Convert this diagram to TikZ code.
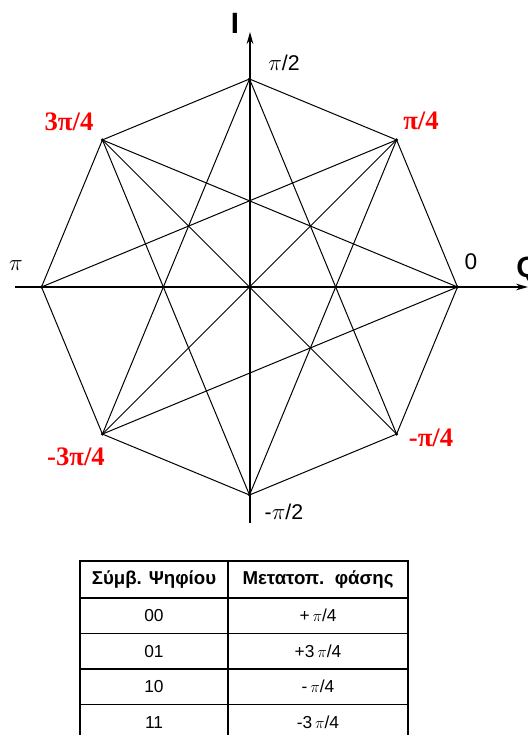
\documentclass[tikz,border=0pt]{standalone}
\usepackage{fontspec}
\setmainfont{Liberation Sans}
\newfontfamily\serifbf{Liberation Serif}
\usepackage{xcolor}
\usetikzlibrary{positioning,arrows.meta,calc}
\definecolor{phasered}{RGB}{255,0,0}

\begin{document}
\begin{tikzpicture}[x=0.75pt,y=0.75pt,
  chord/.style={line width=0.75pt},
  axis/.style={line width=1.1pt,-{Stealth[length=9pt,width=5pt]}},
  redlbl/.style={text=phasered,font=\serifbf\bfseries\fontsize{20}{22}\selectfont,inner sep=0pt},
  blklbl/.style={font=\fontsize{16}{18}\selectfont,inner sep=0pt},
  axlbl/.style={font=\bfseries\fontsize{22}{24}\selectfont,inner sep=0pt},
  cell/.style={draw,line width=1.2pt,outer sep=0pt,inner sep=0pt,minimum height=26.6pt,font=\fontsize{13}{15}\selectfont}]
\useasboundingbox (0,0) rectangle (528,-735);

% constellation
\coordinate (c) at (249.5,-287);
\foreach \a in {0,45,...,315}
  \coordinate (p\a) at ($(c)+(\a:208)$);
\coordinate (qa) at (15,-287);
\coordinate (qb) at (528,-287);
\coordinate (ia) at (250,-523);
\coordinate (ib) at (250,-32);

\draw[chord] (p0) -- (p45) -- (p90) -- (p135) -- (p180) -- (p225) -- (p270) -- (p315) -- cycle;
\foreach \s/\t in {135/0,45/180,90/225,135/270,225/0,270/45,315/90,45/225,135/315}
  \draw[chord] (p\s) -- (p\t);
\draw[axis] (qa) -- (qb);
\draw[axis] (ia) -- (ib);
\foreach \a in {0,45,...,315}
  \fill (p\a) circle[radius=1.3pt];
\fill (c) circle[radius=1.3pt];

\node[axlbl] (ilbl) at (235,-23) {I};
\node[axlbl,anchor=west] (qlbl) at (516,-270) {Q};
\node[blklbl] (l90) at (284,-63) {$\pi$/2};
\node[blklbl] (l270) at (284,-512) {-$\pi$/2};
\node[blklbl] (l180) at (16,-266) {$\pi$};
\node[blklbl,font=\fontsize{17}{19}\selectfont] (l0) at (471,-262) {0};
\node[redlbl] (l45) at (421,-121) {π/4};
\node[redlbl] (l135) at (69,-122) {3π/4};
\node[redlbl] (l225) at (76,-457) {-3π/4};
\node[redlbl] (l315) at (431,-438) {-π/4};

% table
\node[cell,minimum width=111pt,minimum height=27.75pt,anchor=north west,font=\bfseries\fontsize{14}{16}\selectfont] (h1) at (80,-561) {Σύμβ. Ψηφίου};
\node[cell,minimum width=135pt,minimum height=27.75pt,right=0pt of h1,font=\bfseries\fontsize{14}{16}\selectfont] (h2) {Μετατοπ.\ \ φάσης};
\node[cell,minimum width=111pt,below=0pt of h1] (r1a) {00};
\node[cell,minimum width=135pt,below=0pt of h2] (r1b) {+\,$\pi$/4};
\node[cell,minimum width=111pt,below=0pt of r1a] (r2a) {01};
\node[cell,minimum width=135pt,below=0pt of r1b] (r2b) {+3\,$\pi$/4};
\node[cell,minimum width=111pt,below=0pt of r2a] (r3a) {10};
\node[cell,minimum width=135pt,below=0pt of r2b] (r3b) {-\,$\pi$/4};
\node[cell,minimum width=111pt,below=0pt of r3a] (r4a) {11};
\node[cell,minimum width=135pt,below=0pt of r3b] (r4b) {-3\,$\pi$/4};
\end{tikzpicture}
\end{document}
